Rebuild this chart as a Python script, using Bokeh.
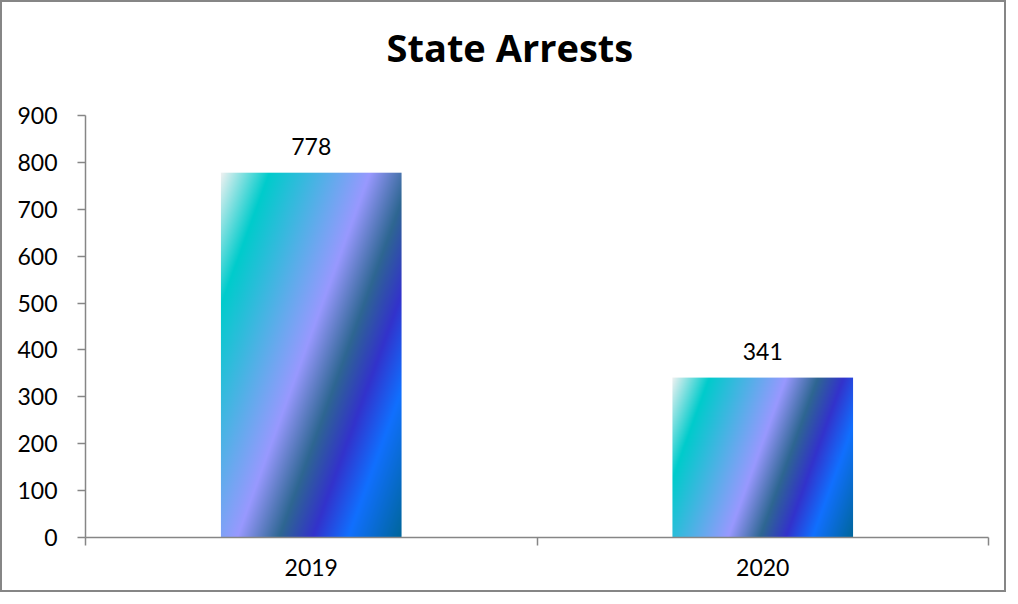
import numpy as np
from bokeh.plotting import figure
from bokeh.models import Range1d, FixedTicker, Title
from bokeh.core.properties import value
from bokeh.embed import file_html
from bokeh.resources import INLINE

# ---- data ----
categories = ["2019", "2020"]
arrests = [778, 341]
y_ticks = [0, 100, 200, 300, 400, 500, 600, 700, 800, 900]
title_text = "State Arrests"

# ---- gradient style (Excel "Peacock"-like) ----
grad_pos = [0.0, 0.155, 0.475, 0.608, 0.715, 0.826, 1.0]
grad_col = ["#F2F2F2", "#00CCCC", "#9999FF", "#2E6792", "#3333CC", "#1170FF", "#006699"]
grad_angle = np.deg2rad(20)

FONT = "Lato"
TITLE_FONT = "Open Sans"
AXIS_COL = "#868686"

W, H = 1006, 592
ML, MR, MT, MB = 83, 20, 113, 57
frame_w = W - ML - MR
frame_h = H - MT - MB

x_max = len(categories)
y_max = y_ticks[-1]
bar_w = 0.4
centers = [i + 0.5 for i in range(len(categories))]

p = figure(width=W, height=H, output_backend="svg", toolbar_location=None,
           x_range=Range1d(0, x_max), y_range=Range1d(0, y_max),
           min_border_left=ML, min_border_right=MR, min_border_top=MT, min_border_bottom=MB)
p.styles = {"border": "2px solid #868686"}
p.outline_line_color = None
p.grid.visible = False
p.background_fill_color = "white"
p.border_fill_color = "white"

def hex2rgb(h):
    h = h.lstrip("#")
    return [int(h[i:i + 2], 16) for i in (0, 2, 4)]

cols = np.array([hex2rgb(c) for c in grad_col], dtype=float)

def gradient_image(val):
    pw = max(2, int(round(bar_w * frame_w / x_max)))
    ph = max(2, int(round(val * frame_h / y_max)))
    xx, yy = np.meshgrid(np.arange(pw) + 0.5, np.arange(ph) + 0.5)
    ytop = ph - yy  # distance from top
    c, s = np.cos(grad_angle), np.sin(grad_angle)
    proj = xx * c + ytop * s
    t = proj / (pw * c + ph * s)
    img = np.empty((ph, pw), dtype=np.uint32)
    view = img.view(dtype=np.uint8).reshape((ph, pw, 4))
    for k in range(3):
        view[:, :, k] = np.interp(t, grad_pos, cols[:, k]).astype(np.uint8)
    view[:, :, 3] = 255
    return img

for cx, v in zip(centers, arrests):
    p.image_rgba(image=[gradient_image(v)], x=cx - bar_w / 2, y=0, dw=bar_w, dh=v)

p.text(x=centers, y=arrests, text=[str(v) for v in arrests], text_align="center",
       text_baseline="alphabetic", y_offset=-26, text_font=value(FONT),
       text_font_size="23px", text_color="black")

# spacer between title and plot frame
p.add_layout(Title(text=" ", text_font_size="1px", standoff=40), "above")

# title
p.title.text = title_text
p.title.align = "left"
p.title.offset = 301
p.title.standoff = 0
p.title.text_font = TITLE_FONT
p.title.text_font_size = "38px"
p.title.text_font_style = "bold"
p.title.text_color = "black"

# x axis
xa = p.xaxis[0]
xa.ticker = FixedTicker(ticks=centers, minor_ticks=list(range(x_max + 1)))
xa.major_label_overrides = {c: lab for c, lab in zip(centers, categories)}
xa.major_tick_line_color = None
xa.minor_tick_out = 8
xa.minor_tick_in = 0
xa.minor_tick_line_color = AXIS_COL
xa.minor_tick_line_width = 1.5
xa.axis_line_color = AXIS_COL
xa.axis_line_width = 1.5
xa.major_label_standoff = 13
xa.major_label_text_font = FONT
xa.major_label_text_font_size = "23px"
xa.major_label_text_color = "black"

ya = p.yaxis[0]
ya.ticker = FixedTicker(ticks=y_ticks)
ya.major_tick_out = 8
ya.major_tick_in = 0
ya.major_tick_line_color = AXIS_COL
ya.major_tick_line_width = 1.5
ya.minor_tick_line_color = None
ya.axis_line_color = AXIS_COL
ya.axis_line_width = 1.5
ya.major_label_standoff = 20
ya.major_label_text_font = FONT
ya.major_label_text_font_size = "23px"
ya.major_label_text_color = "black"

open("out.html", "w").write(file_html(p, INLINE))
